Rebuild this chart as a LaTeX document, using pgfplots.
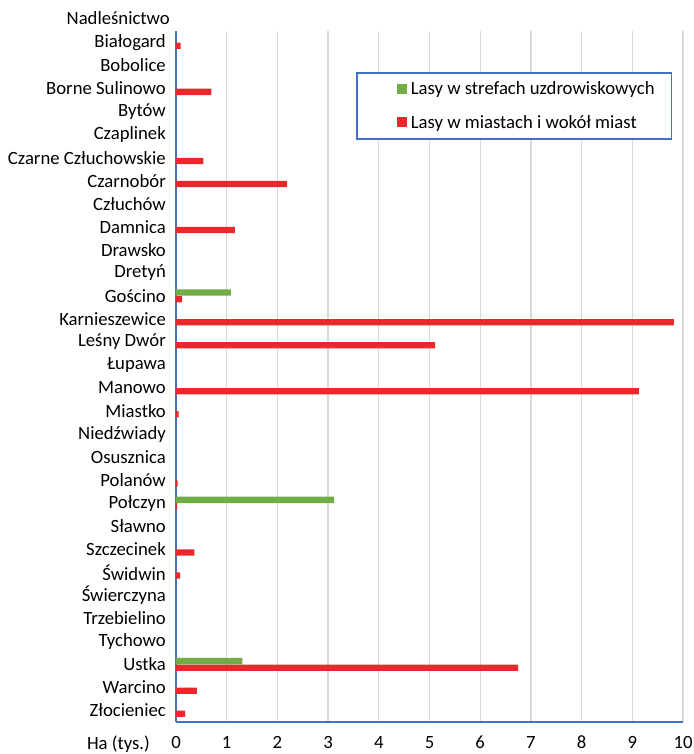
\documentclass[border=0pt]{standalone}
\usepackage{fontspec}
\setmainfont{Carlito}
\usepackage{pgfplots}
\pgfplotsset{compat=1.18}
\definecolor{axblue}{HTML}{4472C4}
\definecolor{bargreen}{HTML}{70AD47}
\definecolor{barred}{HTML}{E8282A}
\definecolor{gridgray}{HTML}{D9D9D9}
\newcommand{\chartfont}{\fontsize{18.7}{22}\selectfont}
\begin{document}
\begin{tikzpicture}
\begin{axis}[
  scale only axis, width=507pt, height=691pt,
  xmin=0, xmax=10, ymin=0.5, ymax=30.5,
  axis x line*=bottom, axis y line*=left,
  axis line style={axblue, line width=1.8pt, -},
  xtick={0,1,...,10}, ytick={1,2,...,30},
  yticklabels={Złocieniec,Warcino,Ustka,Tychowo,Trzebielino,Świerczyna,Świdwin,Szczecinek,Sławno,Połczyn,Polanów,Osusznica,Niedźwiady,Miastko,Manowo,Łupawa,Leśny Dwór,Karnieszewice,Gościno,Dretyń,Drawsko,Damnica,Człuchów,Czarnobór,Czarne Człuchowskie,Czaplinek,Bytów,Borne Sulinowo,Bobolice,Białogard},
  major tick length=0pt,
  xmajorgrids, major grid style={gridgray, line width=1.3pt},
  tick label style={font=\chartfont, inner sep=0pt},
  /pgf/number format/assume math mode=true,
  yticklabel shift=10pt, xticklabel shift=14pt,
  xbar, bar width=6.3pt,
  legend cell align=left,
  legend style={at={(axis description cs:0.355,0.9407)}, anchor=north west,
    draw=axblue, line width=1.6pt, inner xsep=17pt, inner ysep=9pt,
    font=\chartfont, nodes={inner sep=0pt},
    /tikz/row sep=19pt, /tikz/column sep=4pt},
  legend image code/.code={\path[draw=none,fill=none] (-23pt,0pt) -- (-22.9pt,0pt); \fill[#1,draw=none] (0pt,-5pt) rectangle (10pt,5pt);},
]
\addplot[fill=bargreen, draw=none, bar shift=3.3pt] coordinates {
  (1.08,19) (3.12,10) (1.31,3)
};
\addlegendentry{Lasy w strefach uzdrowiskowych}
\addplot[fill=barred, draw=none, bar shift=-3.3pt] coordinates {
  (0.09,30) (0.70,28) (0.54,25) (2.19,24) (1.16,22) (0.12,19) (9.82,18)
  (5.11,17) (9.13,15) (0.05,14) (0.03,11) (0.02,10) (0.36,8) (0.08,7)
  (6.75,3) (0.41,2) (0.18,1)
};
\addlegendentry{Lasy w miastach i wokół miast}
\coordinate (bl) at (rel axis cs:0,0);
\coordinate (tl) at (rel axis cs:0,1);
\end{axis}
\node[anchor=east, font=\chartfont, inner sep=0pt, xshift=-6pt, yshift=13pt] at (tl) {Nadleśnictwo};
\node[anchor=east, font=\chartfont, inner sep=0pt, xshift=-26pt, yshift=-22pt] at (bl) {Ha (tys.)};
\pgfresetboundingbox
\path[use as bounding box] (bl) ++(-176pt,-32pt) rectangle ++(693pt,754pt);
\end{tikzpicture}
\end{document}
